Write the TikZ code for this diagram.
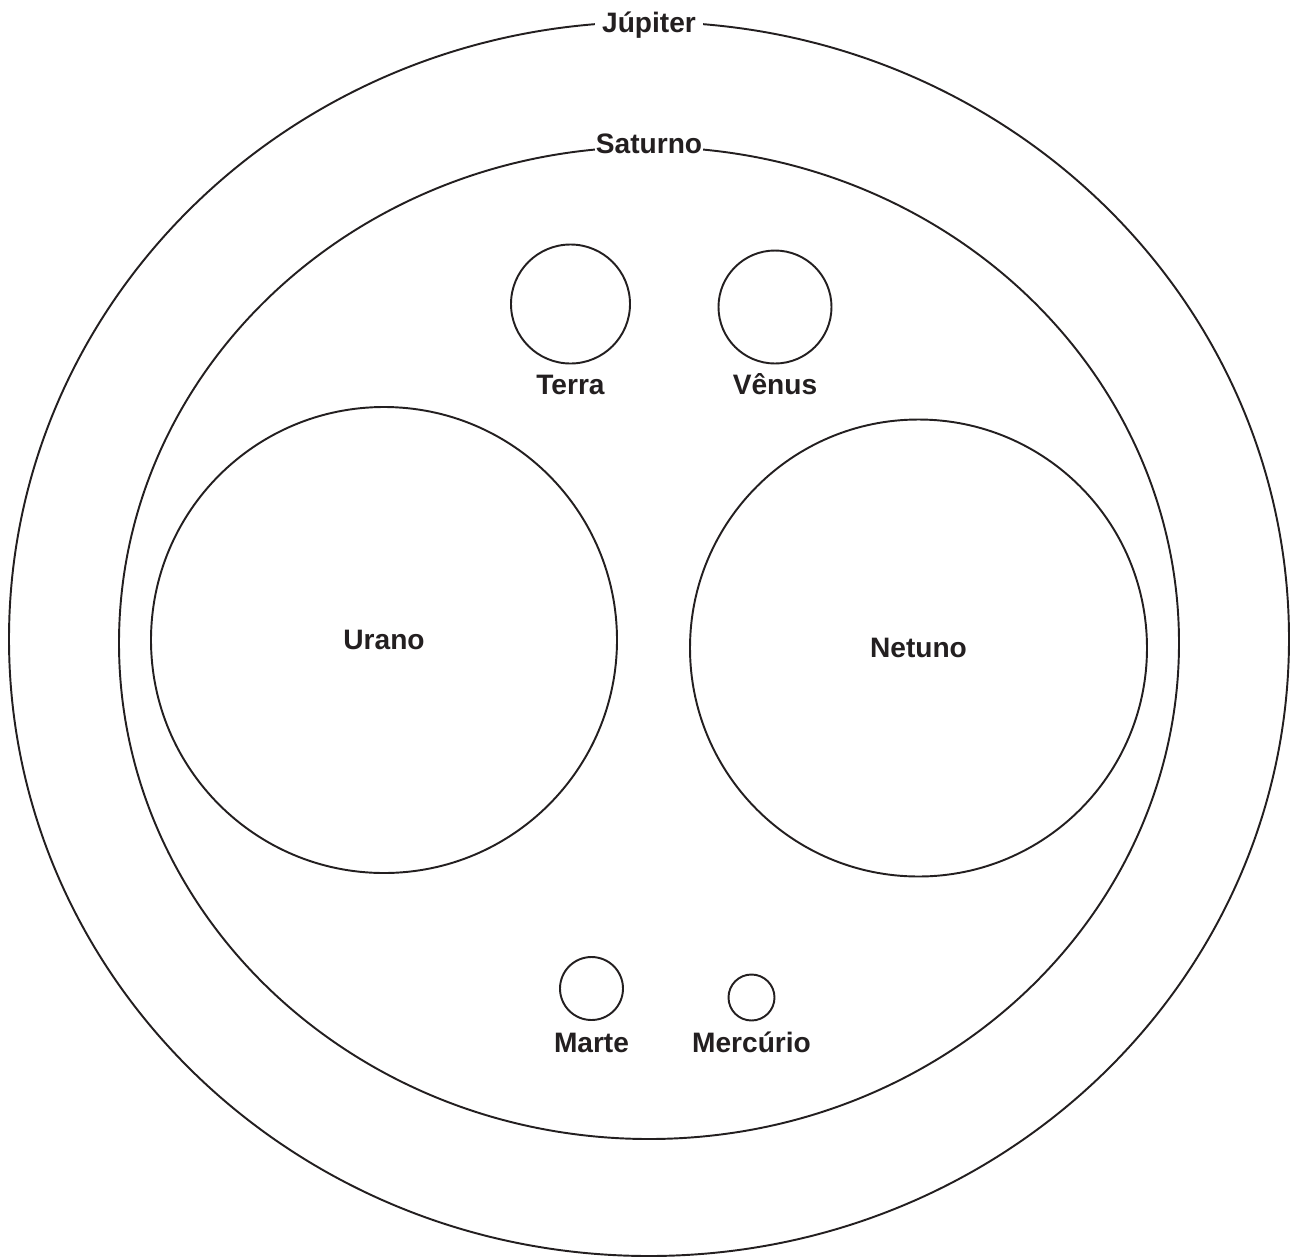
\documentclass[tikz,border=0pt]{standalone}
\usepackage{fontspec}
\setmainfont{Liberation Sans}
\usetikzlibrary{positioning,shapes.geometric}
\definecolor{tinta}{RGB}{35,31,32}

\begin{document}
\begin{tikzpicture}[color=tinta, line width=1.1pt, node distance=0.62cm,
	planeta/.style={circle,draw,inner sep=0pt,outer sep=0pt,font=\bfseries\fontsize{16}{19}\selectfont},
	orbita/.style={ellipse,draw,inner sep=0pt,outer sep=0pt},
	nome/.style={font=\bfseries\fontsize{16}{19}\selectfont,inner sep=0pt,anchor=base},
	rotulo/.style={nome,fill=white,inner ysep=1pt}]

	\useasboundingbox (0,0) rectangle (25.94,-25.16);

	% conjuntos externos
	\node[orbita, minimum width=25.6cm, minimum height=24.68cm] (jupiter) at (12.98,-12.78) {};
	\node[orbita, minimum width=21.2cm, minimum height=19.84cm] (saturno) at (12.98,-12.86) {};
	\node[rotulo, inner xsep=0.15cm, yshift=-0.2cm] (jupiter txt) at (jupiter.north) {Júpiter};
	\node[rotulo, inner xsep=0.02cm, yshift=-0.13cm] (saturno txt) at (saturno.north) {Saturno};

	% planetas
	\node[planeta, minimum size=2.38cm] (terra) at (11.41,-6.08) {};
	\node[planeta, minimum size=2.26cm] (venus) at (15.5,-6.14) {};
	\node[planeta, minimum size=9.32cm] (urano) at (7.68,-12.8) {Urano};
	\node[planeta, minimum size=9.14cm] (netuno) at (18.37,-12.96) {Netuno};
	\node[planeta, minimum size=1.26cm] (marte) at (11.83,-19.77) {};
	\node[planeta, minimum size=0.92cm] (mercurio) at (15.03,-19.95) {};

	\node[below=of terra, nome] (terra txt) {Terra};
	\node[below=of venus, nome] (venus txt) {Vênus};
	\node[below=0.64cm of marte, nome] (marte txt) {Marte};
	\node[below=0.64cm of mercurio, nome] (mercurio txt) {Mercúrio};

\end{tikzpicture}
\end{document}
